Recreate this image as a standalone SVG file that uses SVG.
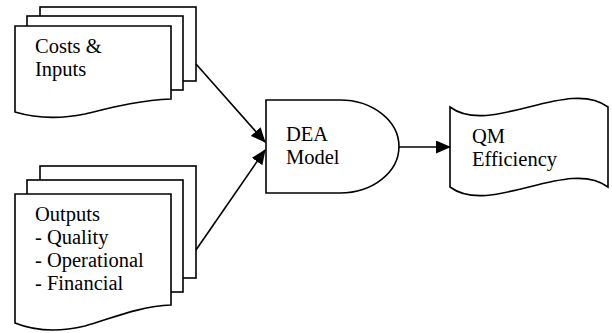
<svg xmlns="http://www.w3.org/2000/svg" width="612" height="333" viewBox="0 0 612 333">
<defs>
<style>
.s{fill:#fff;stroke:#000;stroke-width:1.6;stroke-linejoin:miter}
.t{font-family:'Liberation Serif','Times New Roman','DejaVu Serif','Noto Serif',serif;font-size:20.5px;fill:#000}
.c{fill:none;stroke:#000;stroke-width:1.6}
</style>
<marker id="ah" markerWidth="15" markerHeight="13" refX="14" refY="6.5" orient="auto" markerUnits="userSpaceOnUse">
<path d="M0,0 L15,6.5 L0,13 Z" fill="#000"/>
</marker>
</defs>
<rect width="612" height="333" fill="#fff"/>
<g id="costs-inputs">
<rect class="s" x="40" y="7" width="156" height="74"/>
<rect class="s" x="27" y="16" width="156" height="74"/>
<path class="s" d="M15,26 H171 V99 C140,100 110,108 85,114 C60,119 35,118 15,112 Z"/>
<text class="t" x="35" y="53" font-family="Liberation Serif, serif">Costs &amp;</text>
<text class="t" x="35" y="76" font-family="Liberation Serif, serif">Inputs</text>
</g>
<g id="outputs">
<rect class="s" x="40" y="166" width="156" height="112"/>
<rect class="s" x="27" y="180" width="156" height="112"/>
<path class="s" d="M15,194 H171 V305 C140,306 110,319 85,326 C60,332 35,331 15,323 Z"/>
<text class="t" x="35" y="221">Outputs</text>
<text class="t" x="35" y="244">- Quality</text>
<text class="t" x="35" y="267">- Operational</text>
<text class="t" x="35" y="290">- Financial</text>
</g>
<g id="dea-model">
<path class="s" d="M266,100 H340 A59,46.5 0 0 1 340,193 H266 Z"/>
<text class="t" x="286" y="141">DEA</text>
<text class="t" x="286" y="164">Model</text>
</g>
<g id="qm-efficiency">
<path class="s" d="M450,107 C490,137 568,77 608,107 V187 C568,157 490,217 450,187 Z"/>
<text class="t" x="472" y="143">QM</text>
<text class="t" x="472" y="166">Efficiency</text>
</g>
<g id="connectors">
<line class="c" x1="196" y1="64" x2="265" y2="142" marker-end="url(#ah)"/>
<line class="c" x1="196" y1="250" x2="265" y2="150" marker-end="url(#ah)"/>
<line class="c" x1="399" y1="147" x2="450" y2="147" marker-end="url(#ah)"/>
</g>
</svg>
